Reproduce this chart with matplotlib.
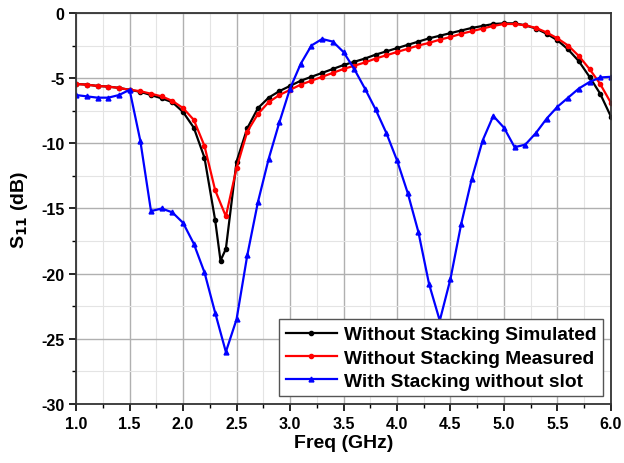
import numpy as np
from matplotlib import pyplot as plt
from matplotlib.ticker import MultipleLocator

plt.rcParams['font.family'] = ['Liberation Sans', 'DejaVu Sans']
plt.rcParams['font.weight'] = 'bold'
plt.rcParams['axes.unicode_minus'] = False
plt.rcParams['mathtext.default'] = 'bf'

# Without stacking, simulated (black)
freq_sim = [1.0, 1.1, 1.2, 1.3, 1.4, 1.5, 1.6, 1.7, 1.8, 1.9,
            2.0, 2.1, 2.2, 2.3, 2.35, 2.4, 2.5, 2.6, 2.7, 2.8, 2.9,
            3.0, 3.1, 3.2, 3.3, 3.4, 3.5, 3.6, 3.7, 3.8, 3.9,
            4.0, 4.1, 4.2, 4.3, 4.4, 4.5, 4.6, 4.7, 4.8, 4.9,
            5.0, 5.1, 5.2, 5.3, 5.4, 5.5, 5.6, 5.7, 5.8, 5.9, 6.0]
s11_sim = [-5.45, -5.5, -5.6, -5.65, -5.75, -5.9, -6.05, -6.3, -6.55, -6.85,
           -7.6, -8.8, -11.1, -15.9, -19.0, -18.1, -11.4, -8.85, -7.3, -6.5, -6.0,
           -5.6, -5.2, -4.9, -4.6, -4.3, -4.0, -3.75, -3.5, -3.2, -2.95,
           -2.7, -2.45, -2.2, -1.95, -1.75, -1.55, -1.35, -1.15, -1.0, -0.85,
           -0.8, -0.8, -0.95, -1.2, -1.6, -2.1, -2.8, -3.7, -4.9, -6.2, -7.95]

# Without stacking, measured (red)
freq_meas = [round(1.0 + 0.1 * i, 1) for i in range(51)]
s11_meas = [-5.45, -5.5, -5.6, -5.65, -5.75, -5.9, -6.0, -6.2, -6.4, -6.75,
            -7.3, -8.2, -10.2, -13.6, -15.6, -11.9, -9.1, -7.75, -6.85, -6.3,
            -5.9, -5.5, -5.2, -4.9, -4.6, -4.3, -4.05, -3.8, -3.5, -3.25,
            -3.0, -2.75, -2.5, -2.3, -2.05, -1.85, -1.6, -1.4, -1.2, -1.0,
            -0.85, -0.85, -0.95, -1.15, -1.5, -1.95, -2.5, -3.3, -4.3, -5.45, -6.9]

# With stacking, without slot (blue)
freq_stack = [round(1.0 + 0.1 * i, 1) for i in range(51)]
s11_stack = [-6.3, -6.4, -6.5, -6.5, -6.3, -5.9, -9.8, -15.2, -15.0, -15.3,
             -16.1, -17.7, -19.9, -23.0, -26.0, -23.5, -18.6, -14.5, -11.2, -8.4,
             -5.8, -3.9, -2.5, -2.0, -2.2, -3.0, -4.3, -5.8, -7.4, -9.2,
             -11.3, -13.8, -16.8, -20.8, -23.6, -20.4, -16.2, -12.7, -9.8, -7.9,
             -8.8, -10.3, -10.1, -9.2, -8.1, -7.2, -6.5, -5.8, -5.3, -4.95, -4.9]

fig = plt.figure(figsize=(6.24, 4.64), dpi=100)
ax = fig.add_axes([0.122, 0.127, 0.857, 0.843])

ax.plot(freq_sim, s11_sim, color='black', lw=1.6, marker='o', ms=3,
        label='Without Stacking Simulated')
ax.plot(freq_meas, s11_meas, color='red', lw=1.6, marker='o', ms=3,
        label='Without Stacking Measured')
ax.plot(freq_stack, s11_stack, color='blue', lw=1.6, marker='^', ms=3.5,
        label='With Stacking without slot')

ax.set_xlim(1.0, 6.0)
ax.set_ylim(-30, 0)
ax.xaxis.set_major_locator(MultipleLocator(0.5))
ax.xaxis.set_minor_locator(MultipleLocator(0.25))
ax.yaxis.set_major_locator(MultipleLocator(5))
ax.yaxis.set_minor_locator(MultipleLocator(2.5))
ax.xaxis.set_major_formatter(lambda v, p: f'{v:.1f}')

# Major and minor grid
ax.grid(which='major', color='#b0b0b0', lw=1.0)
ax.grid(which='minor', color='#e4e4e4', lw=0.8)
ax.set_axisbelow(True)

ax.tick_params(which='major', length=5, width=1.2, labelsize=11.5)
ax.tick_params(which='minor', length=3, width=1.0)
for s in ax.spines.values():
    s.set_linewidth(1.3)
    s.set_color('#333333')

ax.set_xlabel('Freq (GHz)', fontsize=14, fontweight='bold', labelpad=2)
ax.set_ylabel('S$_{11}$ (dB)', fontsize=14, fontweight='bold', labelpad=8)

leg = ax.legend(loc='lower right', fontsize=13.8, handlelength=2.7,
                fancybox=False, framealpha=1, edgecolor='#555555',
                borderaxespad=0.4, labelspacing=0.3, borderpad=0.35,
                handletextpad=0.35)
leg.get_frame().set_linewidth(1.0)

fig.savefig('out.png', dpi=100)
